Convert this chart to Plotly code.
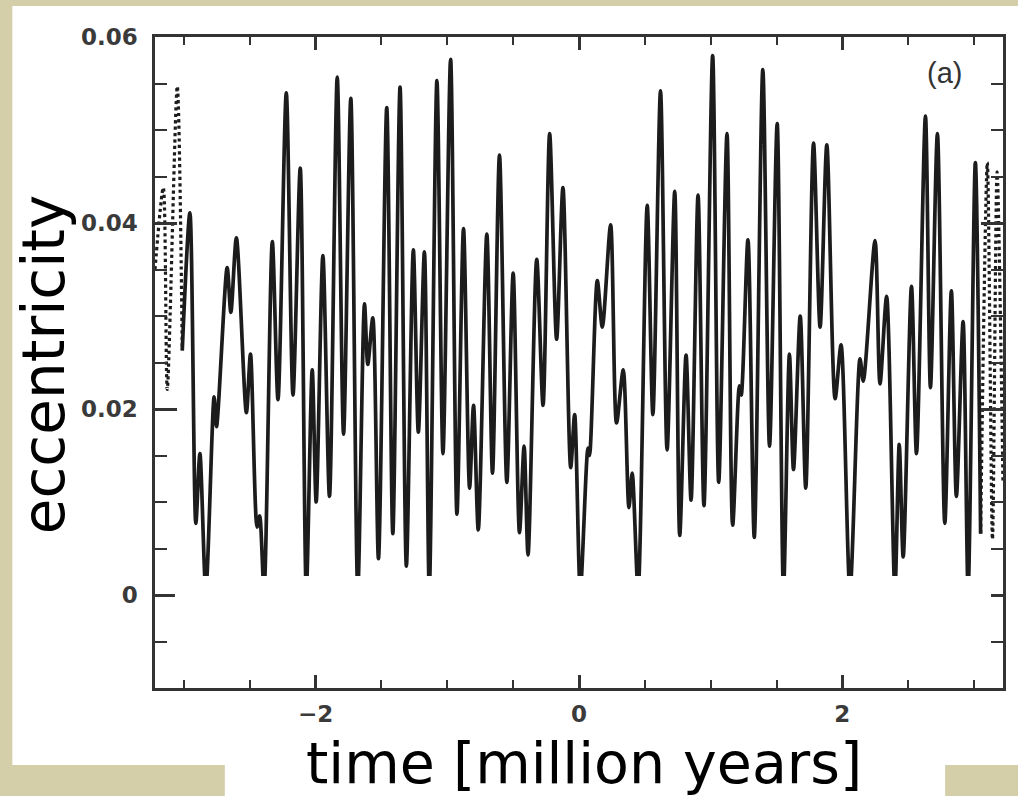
import plotly.graph_objects as go

# ---- data (time in Myr, eccentricity) ----
t_main = [-3.013, -2.955, -2.910, -2.879, -2.834, -2.771, -2.753, -2.672, -2.644, -2.602,
          -2.526, -2.495, -2.445, -2.425, -2.392, -2.329, -2.286, -2.223, -2.172, -2.117,
          -2.071, -2.026, -1.996, -1.945, -1.895, -1.836, -1.788, -1.733, -1.680, -1.629,
          -1.604, -1.566, -1.523, -1.460, -1.414, -1.359, -1.311, -1.258, -1.220, -1.174,
          -1.137, -1.079, -1.033, -0.975, -0.927, -0.877, -0.831, -0.801, -0.765, -0.700,
          -0.657, -0.604, -0.548, -0.500, -0.452, -0.417, -0.387, -0.321, -0.273, -0.223,
          -0.170, -0.122, -0.063, -0.033, 0.010, 0.068, 0.080, 0.139, 0.177, 0.240,
          0.285, 0.336, 0.379, 0.404, 0.449, 0.518, 0.561, 0.619, 0.669, 0.727,
          0.765, 0.813, 0.851, 0.904, 0.949, 1.015, 1.061, 1.124, 1.167, 1.218,
          1.232, 1.283, 1.331, 1.396, 1.447, 1.505, 1.553, 1.598, 1.629, 1.680,
          1.722, 1.781, 1.831, 1.882, 1.945, 1.990, 2.058, 2.134, 2.159, 2.248,
          2.286, 2.336, 2.399, 2.432, 2.462, 2.525, 2.563, 2.631, 2.669, 2.722,
          2.778, 2.828, 2.866, 2.917, 2.955, 3.010, 3.050]
e_main = [0.0263, 0.0411, 0.0077, 0.0152, 0.0005, 0.0213, 0.0181, 0.0352, 0.0304, 0.0384,
          0.0196, 0.0259, 0.0073, 0.0085, 0.0005, 0.0380, 0.0210, 0.0540, 0.0215, 0.0459,
          0.0005, 0.0242, 0.0100, 0.0365, 0.0106, 0.0557, 0.0173, 0.0534, 0.0005, 0.0313,
          0.0248, 0.0298, 0.0039, 0.0524, 0.0066, 0.0546, 0.0031, 0.0371, 0.0175, 0.0369,
          0.0005, 0.0553, 0.0152, 0.0576, 0.0087, 0.0394, 0.0115, 0.0204, 0.0070, 0.0388,
          0.0131, 0.0473, 0.0121, 0.0346, 0.0067, 0.0160, 0.0043, 0.0361, 0.0204, 0.0496,
          0.0275, 0.0438, 0.0137, 0.0194, 0.0005, 0.0158, 0.0150, 0.0338, 0.0288, 0.0398,
          0.0185, 0.0242, 0.0094, 0.0131, 0.0005, 0.0419, 0.0194, 0.0542, 0.0156, 0.0434,
          0.0064, 0.0258, 0.0102, 0.0430, 0.0096, 0.0580, 0.0121, 0.0496, 0.0075, 0.0225,
          0.0215, 0.0382, 0.0062, 0.0565, 0.0160, 0.0507, 0.0005, 0.0259, 0.0135, 0.0300,
          0.0115, 0.0486, 0.0288, 0.0484, 0.0211, 0.0269, 0.0005, 0.0254, 0.0230, 0.0381,
          0.0227, 0.0321, 0.0005, 0.0162, 0.0041, 0.0332, 0.0152, 0.0515, 0.0223, 0.0496,
          0.0077, 0.0327, 0.0106, 0.0294, 0.0005, 0.0465, 0.0066]

# dotted (hatched-looking) pieces at both ends of the record
t_left = [-3.22, -3.157, -3.127, -3.051, -3.013]
e_left = [0.0350, 0.0438, 0.0221, 0.0547, 0.0263]
t_right = [3.050, 3.101, 3.140, 3.175, 3.220]
e_right = [0.0066, 0.0465, 0.0060, 0.0455, 0.0120]

x_tickvals = [-2, 0, 2]
x_ticktext = ["\u22122", "0", "2"]
y_tickvals = [0, 0.02, 0.04, 0.06]
y_ticktext = ["0", "0.02", "0.04", "0.06"]

# ---- figure geometry (pixels) ----
W, H = 1018, 796
L, R, T, B = 155, 13, 37, 108
PW, PH = W - L - R, H - T - B


def px(x):
    return (x - L) / PW


def py(y):
    return (H - B - y) / PH


BEIGE = "#d4cea9"
INK = "#1c1c1c"
AX = "#333333"

fig = go.Figure()
fig.add_trace(go.Scatter(x=t_main, y=e_main, mode="lines",
                         line=dict(color=INK, width=3.7, shape="spline", smoothing=0.8),
                         hoverinfo="skip", showlegend=False))
for tx, ey in ((t_left, e_left), (t_right, e_right)):
    fig.add_trace(go.Scatter(x=tx, y=ey, mode="lines",
                             line=dict(color=INK, width=3.2, shape="spline", smoothing=0.8,
                                       dash="dot"),
                             hoverinfo="skip", showlegend=False))

tickfont = dict(family="DejaVu Sans", size=23, color="#3a3a3a", weight="bold")
axis_common = dict(showgrid=False, zeroline=False, showline=True, linecolor=AX,
                   linewidth=2.5, mirror="ticks", ticks="inside", tickcolor=AX,
                   tickwidth=2.5, tickfont=tickfont, fixedrange=True)

fig.update_xaxes(range=[-3.22, 3.22], tickmode="array", tickvals=x_tickvals,
                 ticktext=x_ticktext, ticklen=13, ticklabelstandoff=4,
                 minor=dict(tickmode="linear", tick0=0, dtick=0.5, ticklen=8,
                            ticks="inside", tickcolor=AX, tickwidth=2.2),
                 **axis_common)
fig.update_yaxes(range=[-0.01, 0.06], tickmode="array", tickvals=y_tickvals,
                 ticktext=y_ticktext, ticklen=22, ticklabelstandoff=10,
                 minor=dict(tickmode="linear", tick0=0, dtick=0.005, ticklen=12,
                            ticks="inside", tickcolor=AX, tickwidth=2.2),
                 **axis_common)

shapes = [
    # white sheet over the beige backdrop
    dict(type="rect", xref="paper", yref="paper", layer="below",
         x0=px(12), x1=px(W + 5), y0=py(765), y1=py(6),
         fillcolor="white", line=dict(width=0)),
    # white strip carrying the x title
    dict(type="rect", xref="paper", yref="paper", layer="below",
         x0=px(225), x1=px(947), y0=py(H + 5), y1=py(760),
         fillcolor="white", line=dict(width=0)),
    # white patch that hides the lowest part of the curve
    dict(type="rect", xref="paper", yref="paper", layer="above",
         x0=px(175), x1=px(993), y0=py(672), y1=py(576),
         fillcolor="white", line=dict(width=0)),
]

annotations = [
    dict(text="eccentricity", xref="paper", yref="paper", x=px(44), y=py(364),
         xanchor="center", yanchor="middle", textangle=-90, showarrow=False,
         font=dict(family="DejaVu Sans", size=58, color="black")),
    dict(text="time [million years]", xref="paper", yref="paper", x=px(585), y=py(763),
         xanchor="center", yanchor="middle", showarrow=False,
         font=dict(family="DejaVu Sans", size=57, color="black")),
    dict(text="(a)", xref="paper", yref="paper", x=px(946), y=py(73),
         xanchor="center", yanchor="middle", showarrow=False,
         font=dict(family="Liberation Sans", size=29, color="#333333")),
]

fig.update_layout(width=W, height=H, autosize=False,
                  margin=dict(l=L, r=R, t=T, b=B, pad=0),
                  paper_bgcolor=BEIGE, plot_bgcolor="white",
                  shapes=shapes, annotations=annotations, showlegend=False)

fig.write_html("out.html")
